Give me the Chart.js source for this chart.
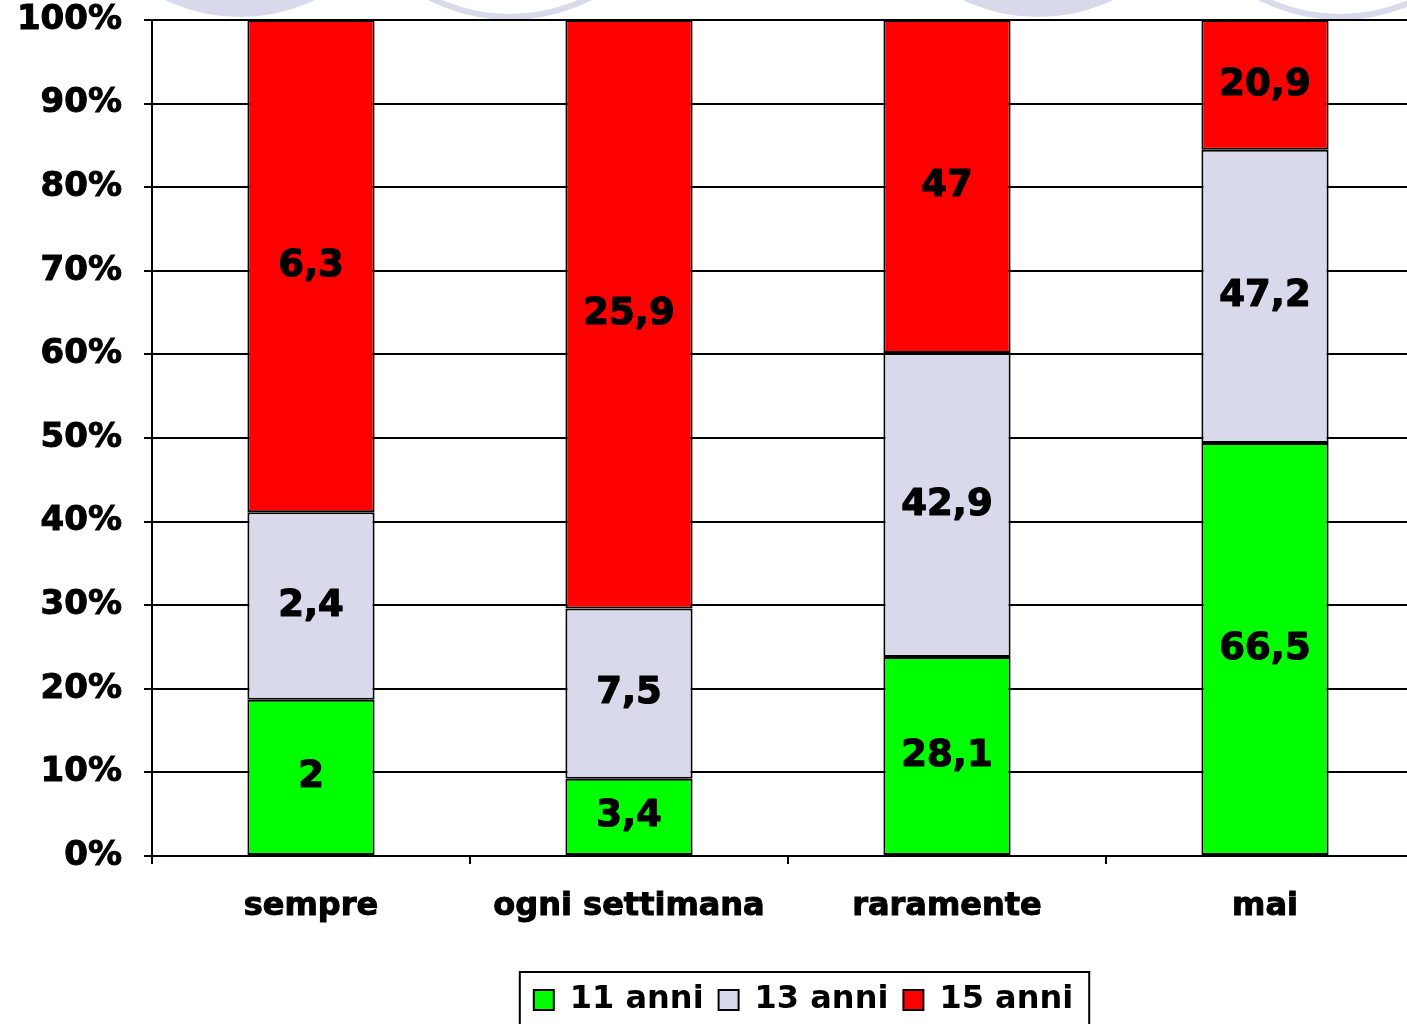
<!DOCTYPE html>
<html>
<head>
<meta charset="utf-8">
<script src="https://cdn.jsdelivr.net/npm/chart.js@4.4.0/dist/chart.umd.min.js"></script>
<style>
  html, body { margin: 0; padding: 0; background: #fff; overflow: hidden; }
  #wrap { width: 1424px; height: 1040px; }
</style>
</head>
<body>
<div id="wrap"><canvas id="chart" width="1424" height="1040"></canvas></div>
<script>
// dati
const categories = ['sempre', 'ogni settimana', 'raramente', 'mai'];
const seriesNames = ['11 anni', '13 anni', '15 anni'];
const anni11 = [2, 3.4, 28.1, 66.5];
const anni13 = [2.4, 7.5, 42.9, 47.2];
const anni15 = [6.3, 25.9, 47, 20.9];
const yTicks = [0, 10, 20, 30, 40, 50, 60, 70, 80, 90, 100];
const seriesColors = ['#00ff00', '#d9d9ec', '#ff0000'];

const FONT = '"DejaVu Sans", Verdana, sans-serif';
Chart.defaults.font.family = FONT;
Chart.defaults.color = '#000';

// totali per categoria -> barre al 100%
const series = [anni11, anni13, anni15];
const totals = categories.map((c, i) => series.reduce((s, arr) => s + arr[i], 0));

const datasets = series.map((arr, k) => ({
    label: seriesNames[k],
    data: arr.map((v, i) => v / totals[i] * 100),
    rawValues: arr,
    backgroundColor: seriesColors[k],
    borderColor: '#000',
    borderWidth: 2,
    borderSkipped: false,
    barPercentage: 0.4,
    categoryPercentage: 1.0
}));

// cerchi decorativi in alto (sfondo della slide)
const decoPlugin = {
    id: 'deco',
    beforeDraw(chart) {
        const ctx = chart.ctx;
        ctx.save();
        ctx.fillStyle = '#fff';
        ctx.fillRect(0, 0, chart.width, chart.height);
        ctx.fillStyle = '#d9d9ec';
        ctx.strokeStyle = '#d9d9ec';
        ctx.lineWidth = 6;
        [[240, true], [510, false], [1038, true], [1340, false]].forEach(([cx, filled]) => {
            ctx.beginPath();
            ctx.arc(cx, -157, 174, 0, Math.PI * 2);
            if (filled) ctx.fill(); else ctx.stroke();
        });
        ctx.restore();
    }
};

// etichette dei valori al centro dei segmenti
const valueLabels = {
    id: 'valueLabels',
    afterDatasetsDraw(chart) {
        const ctx = chart.ctx;
        ctx.save();
        ctx.font = 'bold 37px ' + FONT;
        ctx.fillStyle = '#000';
        ctx.strokeStyle = '#000';
        ctx.lineWidth = 1.2;
        ctx.lineJoin = 'round';
        ctx.textAlign = 'center';
        ctx.textBaseline = 'middle';
        chart.data.datasets.forEach((ds, di) => {
            chart.getDatasetMeta(di).data.forEach((bar, i) => {
                const y = (bar.y + bar.base) / 2;
                const txt = String(ds.rawValues[i]).replace('.', ',');
                ctx.strokeText(txt, bar.x, y);
                ctx.fillText(txt, bar.x, y);
            });
        });
        ctx.restore();
    }
};

// legenda spostata e incorniciata
const legendBox = {
    id: 'legendBox',
    afterUpdate(chart) {
        const lg = chart.legend;
        const boxes = lg.legendHitBoxes;
        if (!boxes || !boxes.length) return;
        const left = Math.min(...boxes.map(b => b.left));
        const right = Math.max(...boxes.map(b => b.left + b.width));
        const dx = 803.5 - (left + right) / 2;
        const dy = 1000 - (boxes[0].top + boxes[0].height / 2);
        lg.left += dx; lg.right += dx;
        lg.top += dy; lg.bottom += dy;
        boxes.forEach(b => { b.left += dx; b.top += dy; });
    },
    afterDraw(chart) {
        const boxes = chart.legend.legendHitBoxes;
        if (!boxes || !boxes.length) return;
        const ctx = chart.ctx;
        const left = Math.min(...boxes.map(b => b.left)) - 14;
        const right = Math.max(...boxes.map(b => b.left + b.width)) + 16;
        const mid = boxes[0].top + boxes[0].height / 2;
        ctx.save();
        ctx.strokeStyle = '#000';
        ctx.lineWidth = 2;
        ctx.strokeRect(left, mid - 28, right - left, 60);
        ctx.restore();
    }
};

new Chart(document.getElementById('chart'), {
    type: 'bar',
    data: { labels: categories, datasets: datasets },
    options: {
        responsive: false,
        animation: false,
        layout: { padding: { top: 20, right: 0, bottom: 0, left: 0 } },
        plugins: {
            legend: {
                position: 'bottom',
                labels: {
                    boxWidth: 20,
                    boxHeight: 20,
                    padding: 15,
                    color: '#000',
                    font: { size: 32, weight: 'bold' }
                }
            },
            tooltip: { enabled: false }
        },
        scales: {
            x: {
                stacked: true,
                grid: { offset: true, drawOnChartArea: false, drawTicks: true, tickLength: 8, color: '#000', lineWidth: 2 },
                border: { display: true, color: '#000', width: 2 },
                ticks: {
                    color: '#000',
                    padding: 23,
                    textStrokeColor: '#000',
                    textStrokeWidth: 1,
                    font: { size: 32, weight: 'bold' }
                },
                afterFit(s) { s.height = 127; s.paddingLeft = 0; s.paddingRight = 0; }
            },
            y: {
                stacked: true,
                min: yTicks[0],
                max: yTicks[yTicks.length - 1],
                afterBuildTicks(s) { s.ticks = yTicks.map(v => ({ value: v })); },
                grid: { color: '#000', lineWidth: 2, tickLength: 8 },
                border: { display: true, color: '#000', width: 2 },
                ticks: {
                    color: '#000',
                    padding: 22,
                    textStrokeColor: '#000',
                    textStrokeWidth: 1,
                    font: { size: 34, weight: 'bold' },
                    callback: v => v + '%'
                },
                afterFit(s) { s.width = 152; s.paddingTop = 0; s.paddingBottom = 0; }
            }
        }
    },
    plugins: [decoPlugin, valueLabels, legendBox]
});
</script>
</body>
</html>
